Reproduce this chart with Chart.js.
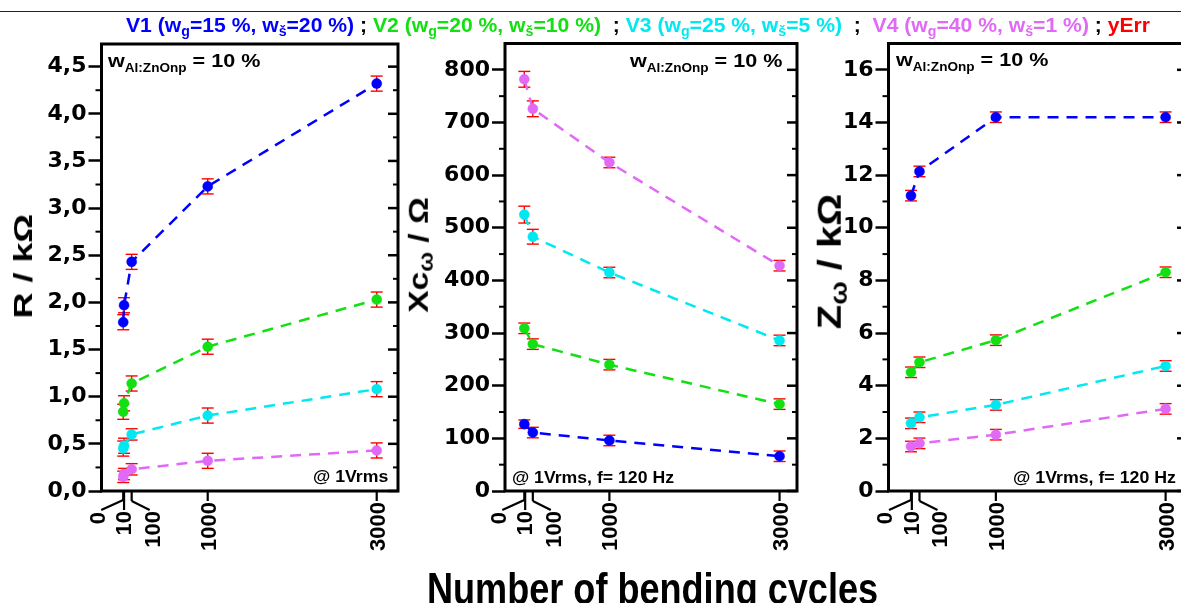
<!DOCTYPE html>
<html><head><meta charset="utf-8">
<script src="https://cdn.jsdelivr.net/npm/chart.js@4.4.1/dist/chart.umd.min.js"></script>
<style>
html,body{margin:0;padding:0;background:#fff;width:1181px;height:603px;overflow:hidden;}
#stage{position:relative;width:1181px;height:603px;overflow:hidden;background:#fff;}
canvas{position:absolute;left:0;top:0;}
.t{position:absolute;white-space:nowrap;font-family:"Liberation Sans",Arial,sans-serif;font-weight:bold;color:#000;}
.t sub{font-size:0.65em;vertical-align:-0.35em;line-height:0;}
.lg sub{font-size:0.67em;vertical-align:-0.3em;}
.an sub{font-size:0.63em;vertical-align:-0.4em;}
.yt sub{font-size:0.7em;vertical-align:-0.25em;}
#topline{position:absolute;left:0;top:10.5px;width:1181px;height:1.4px;background:#222;}
</style></head><body>
<div id="stage">
<div id="topline"></div>
<canvas id="c1" width="1200" height="603"></canvas>
<canvas id="c2" width="1200" height="603"></canvas>
<canvas id="c3" width="1200" height="603"></canvas>

<div class="t lg" id="legend" style="font-size:21px"><span style="color:#0000FF">V1 (w<sub>g</sub>=15 %, w<sub>š</sub>=20 %)</span> ; <span style="color:#12E012">V2 (w<sub>g</sub>=20 %, w<sub>š</sub>=10 %)</span>&nbsp; ; <span style="color:#00E8F0">V3 (w<sub>g</sub>=25 %, w<sub>š</sub>=5 %)</span>&nbsp; ;&nbsp; <span style="color:#E06AF5">V4 (w<sub>g</sub>=40 %, w<sub>š</sub>=1 %)</span> ; <span style="color:#FF0000">yErr</span></div>

<div class="t an" id="a1" style="font-size:19px">w<sub>Al:ZnOnp</sub> = 10 %</div>
<div class="t an" id="a2" style="font-size:19px">w<sub>Al:ZnOnp</sub> = 10 %</div>
<div class="t an" id="a3" style="font-size:19px">w<sub>Al:ZnOnp</sub> = 10 %</div>
<div class="t" id="b1" style="font-size:17px">@ 1Vrms</div>
<div class="t" id="b2" style="font-size:17px">@ 1Vrms, f= 120 Hz</div>
<div class="t" id="b3" style="font-size:17px">@ 1Vrms, f= 120 Hz</div>

<div class="t yt" id="y1" style="font-size:26px">R / kΩ</div>
<div class="t yt" id="y2" style="font-size:28px">Xc<sub>ω</sub> / Ω</div>
<div class="t yt" id="y3" style="font-size:34px">Z<sub>ω</sub> / kΩ</div>

<div class="t" id="xt" style="font-size:44px">Number of bending cycles</div>
</div>
<script>
// ---------------- DATA ----------------
const seriesNames = ['V1', 'V2', 'V3', 'V4'];
const cyclesR = [0, 10, 100, 1000, 3000];
const cyclesXZ = [0, 100, 1000, 3000];
const xTickValues = [0, 10, 100, 1000, 3000];
const xTickLabels = ['0', '10', '100', '1000', '3000'];

// R / kOhm
const R_V1 = [1.79, 1.97, 2.43, 3.23, 4.32];
const R_V2 = [0.84, 0.93, 1.14, 1.53, 2.03];
const R_V3 = [0.45, 0.48, 0.60, 0.80, 1.08];
const R_V4 = [0.15, 0.18, 0.23, 0.32, 0.43];
const R_err_V1 = [0.08, 0.08, 0.08, 0.08, 0.08];
const R_err_V2 = [0.08, 0.08, 0.08, 0.08, 0.08];
const R_err_V3 = [0.08, 0.08, 0.06, 0.08, 0.08];
const R_err_V4 = [0.06, 0.06, 0.06, 0.08, 0.08];

// Xc_omega / Ohm
const Xc_V1 = [127, 111, 96, 66];
const Xc_V2 = [309, 279, 240, 165];
const Xc_V3 = [525, 483, 415, 286];
const Xc_V4 = [782, 726, 624, 428];
const Xc_err_V1 = [8, 10, 10, 10];
const Xc_err_V2 = [10, 10, 10, 10];
const Xc_err_V3 = [16, 14, 10, 10];
const Xc_err_V4 = [15, 15, 10, 10];

// Z_omega / kOhm
const Z_V1 = [11.22, 12.14, 14.2, 14.2];
const Z_V2 = [4.51, 4.89, 5.73, 8.31];
const Z_V3 = [2.57, 2.80, 3.27, 4.75];
const Z_V4 = [1.69, 1.81, 2.14, 3.12];
const Z_err_V1 = [0.2, 0.2, 0.2, 0.2];
const Z_err_V2 = [0.2, 0.2, 0.2, 0.2];
const Z_err_V3 = [0.2, 0.2, 0.2, 0.2];
const Z_err_V4 = [0.2, 0.2, 0.2, 0.2];

// ---------------- STYLE ----------------
const COLORS = ['#0000FF', '#12E012', '#00E8F0', '#E06AF5'];
const ERR_COLOR = '#FF0000';
const FONT_FAMILY = '"Liberation Sans", Arial, sans-serif';
const TICK_FAMILY = '"DejaVu Sans", "Liberation Sans", Arial, sans-serif';
const CW = 1200, CH = 603;

function line(ctx, x1, y1, x2, y2) { ctx.beginPath(); ctx.moveTo(x1, y1); ctx.lineTo(x2, y2); ctx.stroke(); }

const decoPlugin = {
  id: 'deco',
  beforeDatasetsDraw(chart) {
    const { ctx, scales: { x, y } } = chart;
    ctx.save();
    ctx.strokeStyle = ERR_COLOR; ctx.lineWidth = 1.4;
    chart.data.datasets.forEach(ds => {
      ds.data.forEach((p, j) => {
        const e = ds.yErr[j];
        const px = x.getPixelForValue(p.x);
        const y1 = y.getPixelForValue(p.y - e), y2 = y.getPixelForValue(p.y + e);
        line(ctx, px, y1, px, y2);
        line(ctx, px - 6, y1, px + 6, y1);
        line(ctx, px - 6, y2, px + 6, y2);
      });
    });
    ctx.restore();
  },
  afterDraw(chart) {
    const o = chart.options.plugins.deco;
    const { ctx, chartArea: a, scales: { x, y } } = chart;
    ctx.save();
    ctx.strokeStyle = '#000'; ctx.fillStyle = '#000';
    ctx.lineWidth = 3;
    ctx.strokeRect(a.left, a.top, a.right - a.left, a.bottom - a.top);
    // minor ticks
    ctx.lineWidth = 2;
    for (let k = 0; ; k++) {
      const v = o.major / 2 + k * o.major;
      if (v >= y.max - 1e-9) break;
      const py = y.getPixelForValue(v);
      line(ctx, a.left - 6, py, a.left, py);
      line(ctx, a.right - 5, py, a.right, py);
    }
    // right major ticks
    ctx.lineWidth = 2.5;
    y.ticks.forEach(t => { const py = y.getPixelForValue(t.value); line(ctx, a.right - 10, py, a.right, py); });
    // x ticks with leader lines for the crowded 0/10/100 ticks
    const b = a.bottom;
    ctx.lineWidth = 2.2;
    const labelPos = [];
    xTickValues.forEach((v) => {
      const px = x.getPixelForValue(v);
      if (v === 0) { line(ctx, px, b, px, b + 9); line(ctx, px, b + 9, px - 22, b + 19); labelPos.push([px - 26.5, b + 21]); }
      else if (v === 10) { line(ctx, px, b, px, b + 19); labelPos.push([px - 1, b + 20]); }
      else if (v === 100) { line(ctx, px, b, px, b + 10); line(ctx, px, b + 10, px + 18, b + 19); labelPos.push([px + 20, b + 20]); }
      else { line(ctx, px, b, px, b + 10); labelPos.push([px, b + 11]); }
    });
    ctx.font = 'bold 22px ' + FONT_FAMILY;
    ctx.textAlign = 'right'; ctx.textBaseline = 'alphabetic';
    xTickLabels.forEach((lab, i) => {
      const [cx, top] = labelPos[i];
      ctx.save(); ctx.translate(cx + 8, top); ctx.rotate(-Math.PI / 2); ctx.fillText(lab, 0, 0); ctx.restore();
    });
    ctx.restore();
  }
};

function makeChart(id, xvals, series, errs, cfg) {
  const datasets = series.map((d, i) => ({
    label: seriesNames[i],
    data: d.map((v, j) => ({ x: xvals[j], y: v })),
    yErr: errs[i],
    borderColor: COLORS[i], backgroundColor: COLORS[i],
    pointBackgroundColor: COLORS[i], pointBorderColor: COLORS[i],
    pointRadius: 5, pointBorderWidth: 0.5,
    borderWidth: 2.5, borderDash: [11, 8], fill: false, tension: 0
  }));
  return new Chart(document.getElementById(id), {
    type: 'line',
    data: { datasets },
    options: {
      responsive: false, animation: false, events: [],
      layout: { padding: { left: 0, top: cfg.area.top, right: CW - cfg.area.right, bottom: CH - cfg.area.bottom } },
      plugins: { legend: { display: false }, tooltip: { enabled: false }, deco: { major: cfg.step } },
      scales: {
        x: { type: 'linear', min: cfg.xmin, max: cfg.xmax, display: false },
        y: {
          type: 'linear', min: 0, max: cfg.ymax,
          ticks: { stepSize: cfg.step, includeBounds: false, color: '#000', padding: 2,
                   font: { family: TICK_FAMILY, size: 22, weight: 'bold' }, callback: cfg.fmt },
          grid: { display: true, drawOnChartArea: false, drawTicks: true, tickLength: 13, tickWidth: 2.5, tickColor: '#000', color: '#000' },
          border: { display: false },
          afterFit: s => { s.width = cfg.area.left; }
        }
      }
    },
    plugins: [decoPlugin]
  });
}

makeChart('c1', cyclesR, [R_V1, R_V2, R_V3, R_V4], [R_err_V1, R_err_V2, R_err_V3, R_err_V4], {
  area: { left: 101.5, top: 44, right: 398, bottom: 491 }, xmin: -257, xmax: 3252, ymax: 4.74, step: 0.5,
  fmt: v => v.toFixed(1).replace('.', ',')
});
makeChart('c2', cyclesXZ, [Xc_V1, Xc_V2, Xc_V3, Xc_V4], [Xc_err_V1, Xc_err_V2, Xc_err_V3, Xc_err_V4], {
  area: { left: 505, top: 43.5, right: 797, bottom: 491 }, xmin: -227, xmax: 3205, ymax: 850, step: 100,
  fmt: v => String(Math.round(v))
});
makeChart('c3', cyclesXZ, [Z_V1, Z_V2, Z_V3, Z_V4], [Z_err_V1, Z_err_V2, Z_err_V3, Z_err_V4], {
  area: { left: 888.5, top: 43.5, right: 1187, bottom: 491 }, xmin: -265, xmax: 3252, ymax: 17, step: 2,
  fmt: v => String(Math.round(v))
});

// ---------------- TEXT PLACEMENT ----------------
const BASE = 0.8464;
function placeH(id, x, baseline, width, alignRight) {
  const el = document.getElementById(id);
  const F = parseFloat(el.style.fontSize);
  el.style.lineHeight = F + 'px';
  const w = el.offsetWidth;
  const k = width ? width / w : 1;
  el.style.transformOrigin = '0 0';
  el.style.transform = 'scaleX(' + k + ')';
  el.style.left = (alignRight ? x - w * k : x) + 'px';
  el.style.top = (baseline - BASE * F) + 'px';
}
function placeRot(id, bx, cy, len) {
  const el = document.getElementById(id);
  const F = parseFloat(el.style.fontSize);
  el.style.lineHeight = F + 'px';
  const w = el.offsetWidth;
  const k = len / w;
  const by = BASE * F;
  el.style.left = (bx - w / 2) + 'px';
  el.style.top = (cy - by) + 'px';
  el.style.transformOrigin = (w / 2) + 'px ' + by + 'px';
  el.style.transform = 'rotate(-90deg) scaleX(' + k + ')';
}
placeH('legend', 126, 31.5, 1024);
placeH('a1', 108, 67, 152);
placeH('a2', 630, 67, 152);
placeH('a3', 896, 66, 152);
placeH('b1', 388, 482, 75, true);
placeH('b2', 512, 483, 162);
placeH('b3', 1013, 483, 163);
placeH('xt', 427, 604.5, 451);
placeRot('y1', 32, 266, 105);
placeRot('y2', 428, 255, 116);
placeRot('y3', 840, 262, 135);
</script>
</body></html>
